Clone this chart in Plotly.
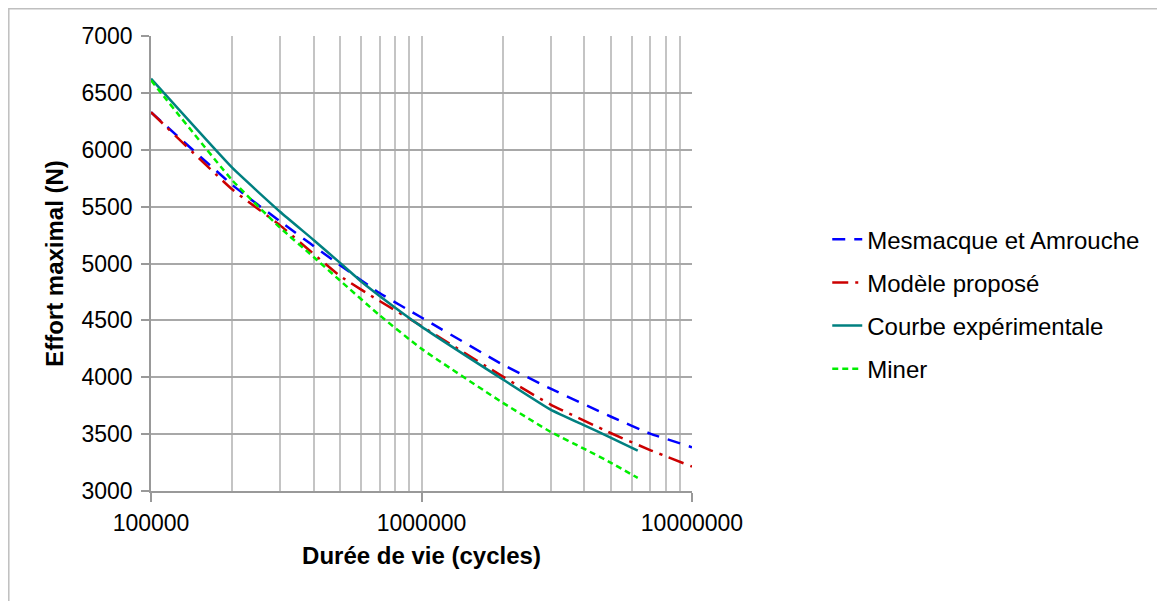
import plotly.graph_objects as go

# ---- data ----
n_mesmacque = [1e5, 2e5, 3e5, 5e5, 7e5, 1e6, 2e6, 3e6, 5e6, 7e6, 1e7]
f_mesmacque = [6330, 5690, 5370, 4985, 4740, 4525, 4110, 3900, 3655, 3505, 3385]

n_modele = [1e5, 2e5, 3e5, 5e5, 7e5, 1e6, 2e6, 3e6, 5e6, 7e6, 1e7]
f_modele = [6330, 5650, 5335, 4890, 4670, 4450, 4005, 3760, 3510, 3360, 3215]

n_experimental = [1e5, 2e5, 3e5, 4e5, 5e5, 6e5, 7e5, 1e6, 2e6, 3e6, 4e6, 5e6, 6.3e6]
f_experimental = [6625, 5840, 5455, 5205, 5005, 4840, 4715, 4445, 3980, 3715, 3576, 3470, 3355]

n_miner = [1e5, 2e5, 3e5, 4e5, 5e5, 7e5, 1e6, 2e6, 3e6, 4e6, 5e6, 6.3e6]
f_miner = [6610, 5730, 5315, 5055, 4850, 4545, 4250, 3775, 3520, 3370, 3250, 3115]

series_names = ["Mesmacque et Amrouche", "Modèle proposé", "Courbe expérimentale", "Miner"]

x_major = [1e5, 1e6, 1e7]
x_major_labels = ["100000", "1000000", "10000000"]
x_minor = [m * d for d in (1e5, 1e6) for m in range(2, 10)]
y_ticks = list(range(3000, 7001, 500))

FONT = "Liberation Sans, Arial, sans-serif"

# plot area in page pixels (page has an 8px body margin)
L, T, W, H = 143, 28, 541, 455

fig = go.Figure()
styles = [
    (n_mesmacque, f_mesmacque, "#0000ff", "13px,9px", 2.5),
    (n_modele, f_modele, "#cc0000", "16px,7px,3px,7px", 2.5),
    (n_experimental, f_experimental, "#008080", "solid", 2.5),
    (n_miner, f_miner, "#00ee00", "6px,4px", 2.5),
]
for name, (xs, ys, col, dash, w) in zip(series_names, styles):
    fig.add_trace(go.Scatter(
        x=xs, y=ys, mode="lines", name=name, legendgroup=name,
        line=dict(color=col, dash=dash, width=w, shape="spline", smoothing=0.4),
    ))

fig.update_layout(
    width=1165, height=601,
    margin=dict(l=L, r=1165 - L - W, t=T, b=601 - T - H),
    paper_bgcolor="white", plot_bgcolor="white",
    font=dict(family=FONT, color="#000000", size=23),
    showlegend=True,
    legend=dict(
        x=1.25, y=0.602, xanchor="left", yanchor="top",
        font=dict(family=FONT, size=24, color="#000000"),
        bgcolor="rgba(0,0,0,0)", traceorder="grouped", tracegroupgap=9,
    ),
    xaxis=dict(
        type="log", range=[5, 7],
        tickmode="array", tickvals=x_major, ticktext=x_major_labels,
        ticks="outside", ticklen=9, tickcolor="#999999", tickwidth=1.5,
        ticklabelstandoff=2,
        showgrid=True, gridcolor="#c4c4c4", gridwidth=1.5,
        minor=dict(tickmode="array", tickvals=x_minor, showgrid=True,
                   gridcolor="#c4c4c4", gridwidth=1.5, ticks=""),
        showline=True, linecolor="#999999", linewidth=1.5,
        tickfont=dict(size=23, family=FONT),
        title=dict(text="<b>Durée de vie (cycles)</b>", font=dict(size=24, family=FONT), standoff=12),
        zeroline=False,
    ),
    yaxis=dict(
        range=[3000, 7000], tickmode="array", tickvals=y_ticks,
        ticks="outside", ticklen=8, tickcolor="#999999", tickwidth=1.5,
        ticklabelstandoff=4,
        showgrid=True, gridcolor="#a8a8a8", gridwidth=1.5,
        showline=True, linecolor="#999999", linewidth=1.5,
        tickfont=dict(size=23, family=FONT),
        title=dict(text="<b>Effort maximal (N)</b>", font=dict(size=24, family=FONT), standoff=11),
        zeroline=False,
    ),
    shapes=[dict(type="rect", xref="paper", yref="paper",
                 x0=(0.8 - L) / W, x1=(1175 - L) / W,
                 y0=(T + H - 612) / H, y1=(T + H - 0.8) / H,
                 line=dict(color="#bfbfbf", width=1.5), fillcolor="rgba(0,0,0,0)",
                 layer="below")],
)

fig.write_html("out.html")
